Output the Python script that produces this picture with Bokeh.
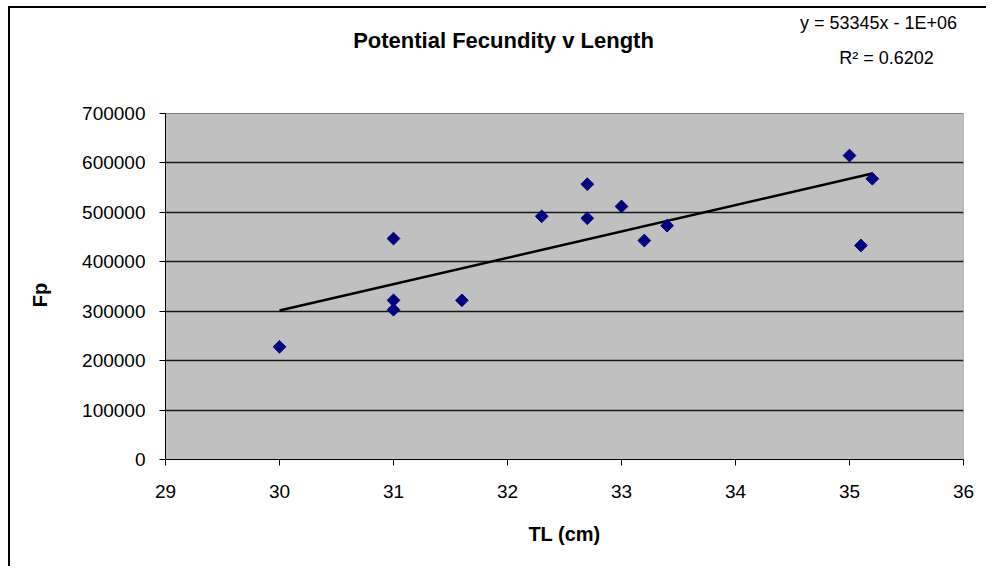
import numpy as np
from bokeh.plotting import figure
from bokeh.models import FixedTicker, BasicTickFormatter, Label, ColumnDataSource, Range1d
from bokeh.embed import file_html
from bokeh.resources import INLINE

# ---- data ----
tl_cm = [30.0, 31.0, 31.0, 31.0, 31.6, 32.3, 32.7, 32.7, 33.0, 33.2, 33.4, 35.0, 35.1, 35.2]
fp = [228000, 447000, 322000, 303000, 322000, 492000, 557000, 488000, 512000, 443000, 473000, 615000, 433000, 568000]
trend_slope = 53345.0
x_ticks = [29, 30, 31, 32, 33, 34, 35, 36]
y_ticks = [0, 100000, 200000, 300000, 400000, 500000, 600000, 700000]
title_text = "Potential Fecundity v Length"
eq_text = "y = 53345x - 1E+06"
r2_text = "R\u00b2 = 0.6202"
x_label = "TL (cm)"
y_label = "Fp"

FONT = "Liberation Sans"

# layout sizes (pixels)
FRAME_W = 798
FRAME_H = 451      # frame reaches the top of the chart so header texts sit inside it
PLOT_H = 346       # height of the grey plot area inside the frame
Y_LABEL_PAD = 22   # non-breaking spaces that centre the y label on the grey area

# trendline: least squares intercept for the reported slope
xm = float(np.mean(tl_cm))
ym = float(np.mean(fp))
intercept = ym - trend_slope * xm
trend_x = [min(tl_cm), max(tl_cm)]
trend_y = [trend_slope * v + intercept for v in trend_x]

y_top = y_ticks[-1] * FRAME_H / PLOT_H

p = figure(
    frame_width=FRAME_W, frame_height=FRAME_H,
    min_border_left=155, min_border_top=0, min_border_right=23, min_border_bottom=107,
    x_range=Range1d(x_ticks[0], x_ticks[-1]), y_range=Range1d(y_ticks[0], y_top),
    output_backend="svg", toolbar_location=None,
    background_fill_color="white", border_fill_color="white",
    outline_line_color=None,
    styles={"border-left": "2px solid black", "border-top": "2px solid black",
            "margin-left": "8px", "margin-top": "6px"},
)
p.title.visible = False

# grey plot area with its border
p.quad(left=[x_ticks[0]], right=[x_ticks[-1]], bottom=[y_ticks[0]], top=[y_ticks[-1]],
       fill_color="#C0C0C0", line_color="#808080", line_width=1, level="image")

# grid
p.xgrid.visible = False
p.ygrid.grid_line_color = "#1a1a1a"
p.ygrid.grid_line_width = 1.5
p.ygrid.ticker = FixedTicker(ticks=y_ticks[:-1])

# axes
for ax in (p.xaxis[0], p.yaxis[0]):
    ax.axis_line_color = "black"
    ax.axis_line_width = 1
    ax.major_tick_line_color = "black"
    ax.major_tick_out = 6
    ax.major_tick_in = 0
    ax.minor_tick_out = 0
    ax.minor_tick_in = 0
    ax.major_label_text_font = FONT
    ax.major_label_text_font_size = "19px"
    ax.major_label_text_color = "black"
    ax.axis_label_text_font = FONT
    ax.axis_label_text_font_style = "bold"
    ax.axis_label_text_font_size = "20px"
    ax.axis_label_text_color = "black"

p.xaxis.ticker = FixedTicker(ticks=x_ticks)
p.yaxis.ticker = FixedTicker(ticks=y_ticks)
p.yaxis.bounds = (y_ticks[0], y_ticks[-1])
p.yaxis.formatter = BasicTickFormatter(use_scientific=False)
p.xaxis.major_label_standoff = 19
p.yaxis.major_label_standoff = 14
p.xaxis.axis_label = x_label
p.yaxis.axis_label = y_label + "\u00a0" * Y_LABEL_PAD
p.xaxis.axis_label_standoff = 22
p.yaxis.axis_label_standoff = 28

# trendline
p.line(trend_x, trend_y, line_color="black", line_width=2.5)

# points
src = ColumnDataSource(dict(x=tl_cm, y=fp))
p.scatter("x", "y", source=src, marker="square", angle=np.pi / 4, size=9,
          fill_color="#000080", line_color="#000080")

# header texts (screen units relative to the frame: x from its left, y up from its bottom)
for txt, sx, sy, fsize, fstyle in [
    (title_text, 338, 419, "22px", "bold"),
    (eq_text, 713, 437, "18px", "normal"),
    (r2_text, 721, 402, "18px", "normal"),
]:
    p.add_layout(Label(x=sx, y=sy, x_units="screen", y_units="screen", text=txt,
                       text_font=FONT, text_font_style=fstyle, text_font_size=fsize,
                       text_align="center", text_baseline="middle", text_color="black"))

open("out.html", "w").write(file_html(p, INLINE))
